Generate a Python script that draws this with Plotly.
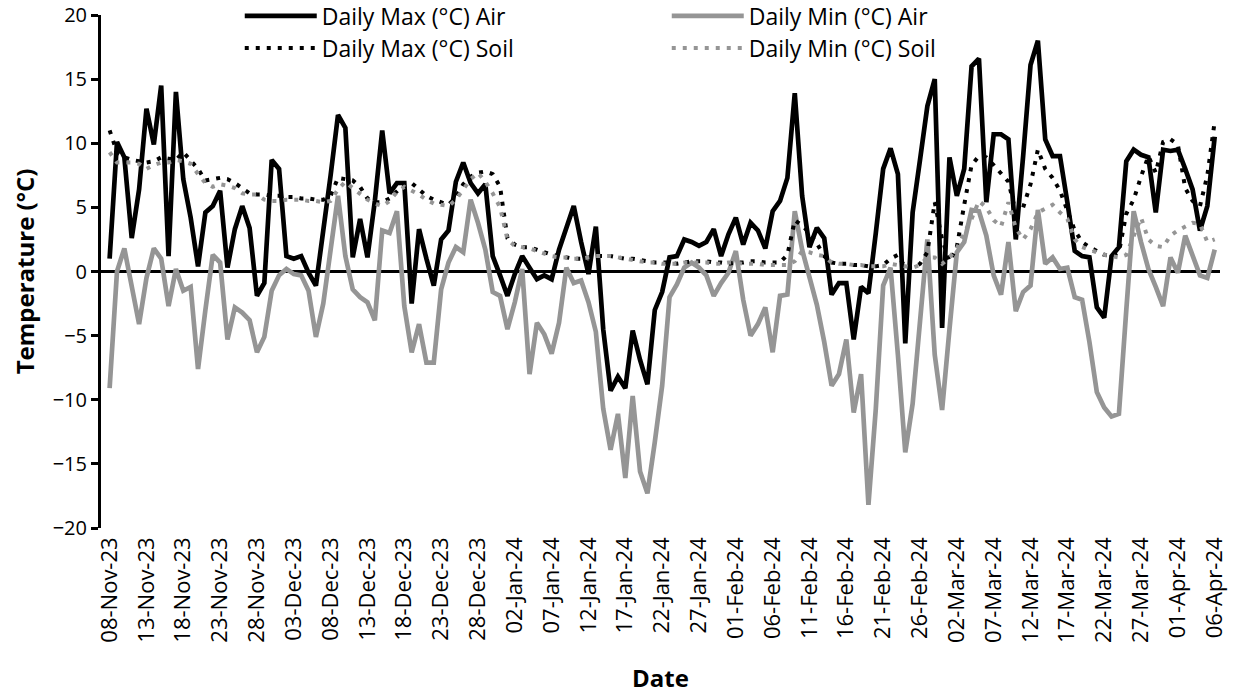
import pandas as pd
import plotly.graph_objects as go

start_date = "2023-11-08"
end_date = "2024-04-06"
dates = pd.date_range(start_date, end_date, freq="D")

max_air = [
    1.0, 10.1, 8.9, 2.6, 6.4, 12.7, 9.9, 14.5, 1.2, 14.0,
    7.2, 4.2, 0.4, 4.6, 5.1, 6.3, 0.3, 3.3, 5.1, 3.4,
    -1.9, -0.9, 8.7, 8.0, 1.2, 1.0, 1.2, -0.1, -1.1, 3.0,
    7.5, 12.2, 11.2, 1.1, 4.1, 1.1, 5.5, 11.0, 6.1, 6.9,
    6.9, -2.5, 3.3, 1.0, -1.1, 2.5, 3.2, 7.0, 8.5, 6.9,
    6.1, 6.8, 1.2, -0.3, -1.9, -0.2, 1.2, 0.3, -0.6, -0.3,
    -0.6, 1.7, 3.5, 5.1, 2.3, -0.2, 3.5, -4.5, -9.3, -8.2,
    -9.1, -4.6, -6.9, -8.8, -3.0, -1.6, 1.1, 1.2, 2.5, 2.3,
    2.0, 2.3, 3.3, 1.2, 2.9, 4.2, 2.1, 3.8, 3.2, 1.8,
    4.7, 5.5, 7.3, 13.9, 5.9, 1.9, 3.4, 2.6, -1.8, -0.9,
    -0.9, -5.3, -1.2, -1.7, 3.0, 8.0, 9.6, 7.6, -5.6, 4.6,
    8.7, 12.9, 15.0, -4.4, 8.9, 5.9, 8.0, 16.0, 16.6, 5.4,
    10.7, 10.7, 10.3, 2.5, 9.0, 16.1, 18.0, 10.3, 9.0, 9.0,
    5.4, 1.6, 1.2, 1.1, -2.8, -3.6, 1.2, 1.9, 8.6, 9.5,
    9.1, 8.9, 4.6, 9.5, 9.4, 9.5, 8.0, 6.4, 3.2, 5.1,
    10.5,
]

min_air = [
    -9.1, 0.0, 1.8, -1.0, -4.1, -0.5, 1.8, 1.0, -2.7, 0.2,
    -1.5, -1.2, -7.6, -3.0, 1.3, 0.7, -5.3, -2.8, -3.2, -3.8,
    -6.3, -5.1, -1.5, -0.3, 0.2, -0.2, -0.3, -1.5, -5.1, -2.5,
    1.5, 5.9, 1.2, -1.4, -2.0, -2.4, -3.8, 3.2, 3.0, 4.7,
    -2.7, -6.3, -4.1, -7.1, -7.1, -1.4, 0.7, 1.9, 1.5, 5.6,
    3.8, 1.7, -1.6, -1.9, -4.5, -2.4, 0.2, -8.0, -4.0, -4.9,
    -6.4, -4.0, 0.3, -0.9, -0.7, -2.4, -4.7, -10.7, -13.9, -11.1,
    -16.1, -9.7, -15.6, -17.3, -13.3, -8.9, -2.0, -1.0, 0.3, 0.7,
    0.3, -0.3, -1.9, -0.9, -0.1, 1.6, -2.2, -5.0, -4.1, -2.8,
    -6.3, -1.9, -1.8, 4.7, 1.7, -0.3, -2.6, -5.5, -8.9, -8.0,
    -5.3, -11.0, -8.0, -18.2, -10.7, -1.1, 0.3, -6.5, -14.1, -10.3,
    -3.5, 2.5, -6.5, -10.8, -4.5, 1.5, 2.3, 4.8, 4.7, 2.8,
    -0.3, -1.8, 2.3, -3.1, -1.6, -1.1, 4.8, 0.6, 1.1, 0.2,
    0.3, -2.0, -2.2, -5.5, -9.4, -10.6, -11.3, -11.1, -3.0, 4.7,
    2.3, 0.2, -1.2, -2.7, 1.1, -0.1, 2.8, 1.2, -0.3, -0.5,
    1.7,
]

soil_max = [
    11.0, 9.3, 8.9, 8.7, 8.6, 8.5, 8.6, 8.9, 8.8, 8.7,
    9.3, 8.7, 8.0, 7.1, 7.2, 7.3, 7.2, 6.9, 6.5, 6.1,
    6.0, 6.0, 5.9, 5.9, 5.8, 5.8, 5.7, 5.7, 5.6, 5.6,
    5.9, 7.3, 7.2, 7.1, 6.6, 5.7, 5.4, 5.4, 5.7, 6.3,
    6.8, 6.9, 6.4, 5.9, 5.6, 5.4, 5.2, 5.8, 6.8, 7.4,
    7.7, 7.8, 7.6, 6.6, 2.6, 2.1, 1.9, 1.9, 1.7, 1.5,
    1.3, 1.2, 1.1, 1.0, 1.0, 1.1, 1.2, 1.2, 1.2, 1.1,
    1.0, 1.0, 0.9, 0.8, 0.7, 0.7, 0.7, 0.6, 0.7, 0.8,
    0.8, 0.8, 0.7, 0.7, 0.6, 0.7, 0.7, 0.8, 0.8, 0.7,
    0.7, 0.7, 1.3, 4.0, 3.6, 3.0, 2.2, 1.2, 0.7, 0.6,
    0.6, 0.5, 0.5, 0.4, 0.4, 0.5, 1.0, 1.3, 0.3, 0.3,
    0.6, 1.5, 5.4, 2.5, 0.8, 1.9, 5.2, 8.3, 9.0, 8.9,
    8.3, 7.6, 7.0, 4.6, 5.0, 6.8, 9.5, 8.0, 7.3, 6.3,
    4.8, 3.2, 2.3, 1.9, 1.6, 1.3, 1.2, 1.5, 4.5, 5.6,
    7.4, 9.0, 7.7, 10.1, 10.3, 9.9, 6.5, 5.5, 5.1, 7.5,
    11.7,
]

soil_min = [
    9.3, 8.5, 8.5, 8.5, 8.4, 8.0, 8.3, 8.5, 8.5, 8.7,
    8.6, 8.4, 7.6, 6.9, 6.6, 6.8, 6.7, 6.5, 6.1, 6.0,
    6.0, 5.6, 5.5, 5.5, 5.6, 5.6, 5.6, 5.5, 5.5, 5.4,
    5.5, 6.4, 7.0, 6.5, 6.0, 5.6, 5.3, 5.1, 5.5, 6.2,
    6.6, 6.3, 6.0, 5.6, 5.3, 5.2, 5.1, 5.6, 6.4, 7.2,
    7.7, 7.0, 6.1, 5.0, 2.5, 2.0, 1.9, 1.8, 1.6, 1.4,
    1.2, 1.1, 1.1, 1.0, 1.0, 1.1, 1.2, 1.2, 1.2, 1.1,
    1.0, 0.9, 0.8, 0.7, 0.7, 0.6, 0.6, 0.6, 0.7, 0.7,
    0.7, 0.7, 0.6, 0.6, 0.7, 0.7, 0.6, 0.6, 0.6, 0.5,
    0.5, 0.5, 0.5, 0.8, 1.6, 1.5, 1.3, 1.2, 0.7, 0.6,
    0.6, 0.5, 0.5, 0.4, 0.4, 0.4, 0.6, 0.5, 0.4, 0.3,
    0.5, 1.1, 1.1, 0.6, 1.1, 1.8, 3.0, 4.1, 5.5, 5.0,
    4.0, 3.5, 5.4, 3.4, 2.5, 3.3, 4.6, 4.9, 5.2, 4.6,
    4.1, 2.5, 1.9, 1.7, 1.5, 1.3, 1.2, 1.1, 1.3, 2.8,
    4.2, 2.5, 2.0, 1.9, 2.8, 3.2, 3.5, 3.8, 3.7, 2.3,
    2.5,
]

series_names = [
    "Daily Max (°C) Air",
    "Daily Min (°C) Air",
    "Daily Max (°C) Soil",
    "Daily Min (°C) Soil",
]

for s in (max_air, min_air, soil_max, soil_min):
    assert len(s) == len(dates), len(s)

BLACK = "#000000"
GREY = "#959595"
FONT = "Open Sans"

fig = go.Figure()
fig.add_trace(go.Scatter(x=dates, y=max_air, mode="lines", name=series_names[0],
                         legend="legend", line=dict(color=BLACK, width=4.7)))
fig.add_trace(go.Scatter(x=dates, y=min_air, mode="lines", name=series_names[1],
                         legend="legend", line=dict(color=GREY, width=4.7)))
fig.add_trace(go.Scatter(x=dates, y=soil_max, mode="lines", name=series_names[2],
                         legend="legend2", line=dict(color=BLACK, width=4, dash="4px,7px")))
fig.add_trace(go.Scatter(x=dates, y=soil_min, mode="lines", name=series_names[3],
                         legend="legend2", line=dict(color=GREY, width=4, dash="4px,7px")))

day = pd.Timedelta(days=1)
x_lo = dates[0] - 1.17 * day
x_hi = dates[-1] + 0.72 * day

legend_common = dict(
    orientation="h", x=0.124, xanchor="left", yanchor="middle",
    bgcolor="rgba(0,0,0,0)", font=dict(family=FONT, size=23, color="black"),
    itemwidth=72, entrywidth=340, entrywidthmode="pixels", traceorder="normal",
)

fig.update_layout(
    width=1237, height=694,
    margin=dict(l=101, r=17, t=15, b=166, autoexpand=False),
    paper_bgcolor="white", plot_bgcolor="white",
    font=dict(family=FONT, color="black", size=20),
    showlegend=True,
    legend=dict(legend_common, y=(528 - 16) / 513),
    legend2=dict(legend_common, y=(528 - 48) / 513),
    xaxis=dict(
        type="date", range=[x_lo, x_hi],
        tick0=start_date, dtick=5 * 86400000, tickformat="%d-%b-%y",
        tickangle=-90, ticks="", showgrid=False, zeroline=False, showline=False,
        tickfont=dict(family=FONT, size=22, color="black"),
        ticklabelstandoff=4,
        title=dict(text="<b>Date</b>", font=dict(family=FONT, size=24, color="black"), standoff=30),
    ),
    yaxis=dict(
        range=[-20, 20], dtick=5, tick0=0,
        ticks="outside", ticklen=7, tickwidth=3, tickcolor="black",
        showline=True, linewidth=3, linecolor="black",
        showgrid=False, zeroline=True, zerolinewidth=3, zerolinecolor="black",
        tickfont=dict(family=FONT, size=20, color="black"),
        title=dict(text="<b>Temperature (°C)</b>", font=dict(family=FONT, size=24, color="black"), standoff=12),
    ),
)

fig.write_html("out.html")
